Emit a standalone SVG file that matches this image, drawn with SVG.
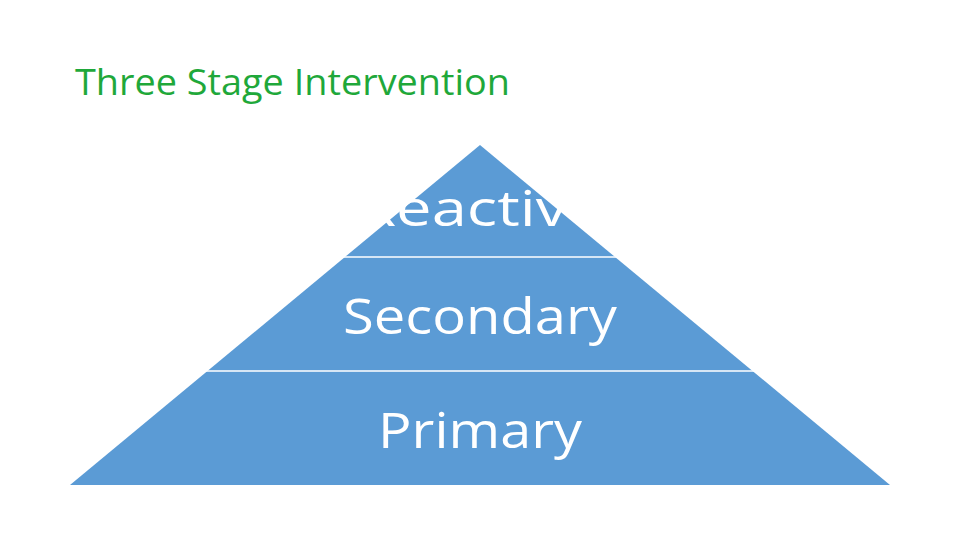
<svg xmlns="http://www.w3.org/2000/svg" width="960" height="540" viewBox="0 0 960 540">
<style>
.lbl{font-family:"Open Sans","Liberation Sans",sans-serif;font-size:50px;fill:#fff;text-anchor:middle}
.sep{stroke:#fff;stroke-width:1.5}
</style>
<rect width="960" height="540" fill="#fff"/>
<text x="75" y="95" font-family="Open Sans, Liberation Sans, sans-serif" font-size="36" fill="#1fa83a" textLength="435" lengthAdjust="spacingAndGlyphs">Three Stage Intervention</text>
<g id="pyramid">
<polygon points="480,145 890,485 70,485" fill="#5b9bd5"/>
</g>
<g id="connectors">
<line class="sep" x1="342" y1="257" x2="618" y2="257"/>
<line class="sep" x1="205" y1="371" x2="755" y2="371"/>
</g>
<g id="reactive"><text class="lbl" x="480" y="226" textLength="246" lengthAdjust="spacingAndGlyphs">Reactive</text></g>
<g id="secondary"><text class="lbl" x="480" y="334" textLength="274" lengthAdjust="spacingAndGlyphs">Secondary</text></g>
<g id="primary"><text class="lbl" x="480" y="448" textLength="204" lengthAdjust="spacingAndGlyphs">Primary</text></g>
</svg>
